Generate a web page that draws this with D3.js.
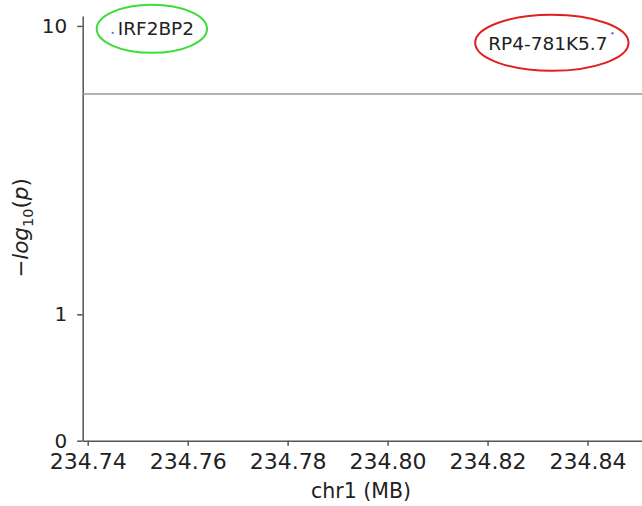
<!DOCTYPE html>
<html>
<head>
<meta charset="utf-8">
<script src="https://cdn.jsdelivr.net/npm/d3@7"></script>
<style>
  body { margin: 0; background: #fff; }
  text { font-family: "DejaVu Sans", sans-serif; fill: #222; }
</style>
</head>
<body>
<script>
// values
const genes = ['IRF2BP2', 'RP4-781K5.7']
const positions = [234.745, 234.845]      // chr1, MB
const logp = [9.68, 9.66]                 // -log10(p)
const ringColors = ['#3ddc3d', '#dd2020']
const xTicks = [234.74, 234.76, 234.78, 234.80, 234.82, 234.84]
const yTicks = [0, 1, 10]
const threshold = 7.07

function drawChart() {
    var svg = d3.select('body')
        .append('svg')
        .attr('width', 642)
        .attr('height', 506)

    var x = d3.scaleLinear()
        .domain([234.739, 234.8509])
        .range([82.7, 642])

    // the y axis is compressed, roughly a square-root scale
    var y = d3.scalePow()
        .exponent(0.516)
        .domain([0, 10.47])
        .range([440.7, 16])

    var xAxis = svg.append('g')
        .attr('transform', 'translate(0,' + y(0) + ')')
        .call(d3.axisBottom(x)
            .tickValues(xTicks)
            .tickFormat(d3.format('.2f'))
            .tickSize(5)
            .tickPadding(8)
            .tickSizeOuter(0))
    xAxis.selectAll('text').style('font-size', '22px')

    var yAxis = svg.append('g')
        .attr('transform', 'translate(' + x.range()[0] + ',0)')
        .call(d3.axisLeft(y)
            .tickValues(yTicks)
            .tickFormat(d3.format('d'))
            .tickSize(5.5)
            .tickPadding(10)
            .tickSizeOuter(0))
    yAxis.selectAll('text').style('font-size', '20px')

    svg.selectAll('.domain, .tick line')
        .attr('stroke', '#555')
        .attr('stroke-width', 1.5)

    // significance line
    svg.append('line')
        .attr('x1', x.range()[0])
        .attr('x2', x.range()[1])
        .attr('y1', y(threshold))
        .attr('y2', y(threshold))
        .attr('stroke', '#999')
        .attr('stroke-width', 1.5)

    svg.append('text')
        .attr('x', 361)
        .attr('y', 498)
        .attr('text-anchor', 'middle')
        .style('font-size', '20.5px')
        .text('chr1 (MB)')

    var ylab = svg.append('text')
        .attr('transform', 'translate(28,228) rotate(-90)')
        .attr('text-anchor', 'middle')
        .style('font-size', '21.5px')
    ylab.append('tspan').text('\u2212')
    ylab.append('tspan').style('font-style', 'italic').text('log')
    ylab.append('tspan').attr('dy', 5).style('font-size', '14.5px').text('10')
    ylab.append('tspan').attr('dy', -5).text('(')
    ylab.append('tspan').style('font-style', 'italic').text('p')
    ylab.append('tspan').text(')')

    // points
    svg.selectAll('.pt')
        .data(positions)
        .enter()
        .append('circle')
        .attr('cx', function(d) { return x(d) })
        .attr('cy', function(d, i) { return y(logp[i]) })
        .attr('r', 1.2)
        .attr('fill', '#6b6bf0')

    // gene labels: first to the right of its point, second to the left and below
    var labelOffsets = [[5, 2], [-5, 17]]
    var anchors = ['start', 'end']
    var labels = svg.selectAll('.lab')
        .data(genes)
        .enter()
        .append('text')
        .attr('x', function(d, i) { return x(positions[i]) + labelOffsets[i][0] })
        .attr('y', function(d, i) { return y(logp[i]) + labelOffsets[i][1] })
        .attr('text-anchor', function(d, i) { return anchors[i] })
        .style('font-size', '18.5px')
        .text(function(d) { return d })

    // rings round the labels
    labels.each(function(d, i) {
        var b = this.getBBox()
        svg.append('ellipse')
            .attr('cx', b.x + b.width / 2 + (i == 0 ? -4 : 4))
            .attr('cy', b.y + b.height / 2 + (i == 0 ? 0.5 : -1))
            .attr('rx', b.width / 2 + 17)
            .attr('ry', 24 + i * 4)
            .attr('fill', 'none')
            .attr('stroke', ringColors[i])
            .attr('stroke-width', 2)
    })
}

drawChart()
</script>
</body>
</html>
